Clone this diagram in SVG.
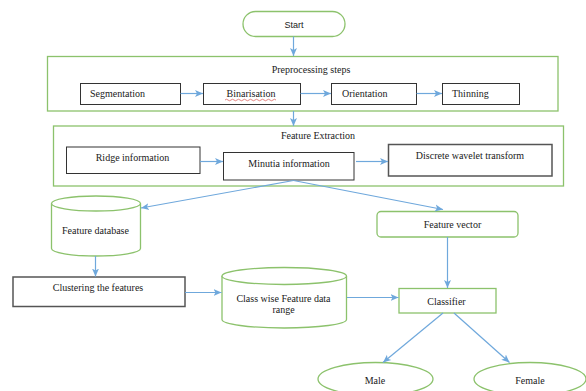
<svg xmlns="http://www.w3.org/2000/svg" width="586" height="391" viewBox="0 0 586 391">
<defs>
<style>
.t{font-family:"Liberation Serif","Times New Roman",serif;font-size:10px;fill:#1a1a1a}
.c{text-anchor:middle}
.g{fill:#fff;stroke:#8cc26c;stroke-width:1.3}
.k{fill:#fff;stroke:#333;stroke-width:1}
.k2{fill:#fff;stroke:#555;stroke-width:1.5}
.a{fill:none;stroke:#6fa8dc;stroke-width:1.2;marker-end:url(#ah)}
</style>
<marker id="ah" markerUnits="userSpaceOnUse" markerWidth="10" markerHeight="8" refX="8" refY="4" orient="auto">
<path d="M0,0.5 L8,4 L0,7.5 L2,4 Z" fill="#6fa8dc"/>
</marker>
</defs>
<rect width="586" height="391" fill="#fff"/>

<g id="start">
<rect class="g" x="243" y="11.5" width="102" height="25" rx="12.5"/>
<text x="294" y="27.5" class="c" style="font-family:'Liberation Sans',Arial,sans-serif;font-size:9px;fill:#1a1a1a">Start</text>
</g>

<g id="preprocessing">
<rect class="g" x="47.5" y="56.5" width="510.5" height="54.5"/>
<text class="t c" x="311" y="73">Preprocessing steps</text>
</g>
<g id="segmentation">
<rect class="k" x="80.5" y="83.5" width="100" height="21"/>
<text class="t" x="90" y="97">Segmentation</text>
</g>
<g id="binarisation">
<rect class="k" x="203.5" y="83.5" width="97" height="21"/>
<text class="t c" x="251" y="97">Binarisation</text>
<path d="M225,100 q1.5,-1.5 3,0 t3,0 t3,0 t3,0 t3,0 t3,0 t3,0 t3,0 t3,0 t3,0 t3,0 t3,0 t3,0 t3,0 t3,0 t3,0 t3,0" fill="none" stroke="#d9534f" stroke-width="0.7"/>
</g>
<g id="orientation">
<rect class="k" x="331.5" y="83.5" width="85" height="21"/>
<text class="t" x="342" y="97">Orientation</text>
</g>
<g id="thinning">
<rect class="k" x="442.5" y="83.5" width="77" height="21"/>
<text class="t" x="452" y="97">Thinning</text>
</g>

<g id="feature-extraction">
<rect class="g" x="53.5" y="126" width="510" height="60"/>
<text class="t c" x="318" y="139">Feature Extraction</text>
</g>
<g id="ridge">
<rect class="k" x="66.5" y="147" width="133.5" height="26.5"/>
<text class="t c" x="132.5" y="161">Ridge information</text>
</g>
<g id="minutia">
<rect class="k" x="223.5" y="152.5" width="130.5" height="27.5"/>
<text class="t c" x="289" y="167">Minutia information</text>
</g>
<g id="dwt">
<rect class="k2" x="388.5" y="144.5" width="163.5" height="31.5"/>
<text class="t c" x="470" y="159">Discrete wavelet transform</text>
</g>

<g id="feature-database">
<path class="g" d="M51.5,203.5 V248.5 A44.5,7.5 0 0 0 140.5,248.5 V203.5"/>
<ellipse class="g" cx="96" cy="203.5" rx="44.5" ry="7.5"/>
<text class="t c" x="95.5" y="234">Feature database</text>
</g>

<g id="feature-vector">
<rect class="g" x="377" y="211.5" width="141" height="25.5" rx="4"/>
<text class="t c" x="452.5" y="228">Feature vector</text>
</g>

<g id="clustering">
<rect class="k2" x="13" y="277" width="172" height="29.5"/>
<text class="t c" x="98" y="291">Clustering the features</text>
</g>

<g id="class-wise">
<path class="g" d="M222,276 V319.5 A62.25,8.5 0 0 0 346.5,319.5 V276"/>
<ellipse class="g" cx="284.25" cy="276" rx="62.25" ry="8.5"/>
<text class="t c" x="283.5" y="301.5">Class wise Feature data</text>
<text class="t c" x="283.5" y="313">range</text>
</g>

<g id="classifier">
<rect class="g" x="399" y="288.5" width="97" height="24.5"/>
<text class="t c" x="446.5" y="305">Classifier</text>
</g>

<g id="male">
<ellipse class="g" cx="375.5" cy="379" rx="57.5" ry="16.5"/>
<text class="t c" x="375" y="383.5">Male</text>
</g>
<g id="female">
<ellipse class="g" cx="530" cy="379" rx="56" ry="16.5"/>
<text class="t c" x="530" y="383.5">Female</text>
</g>

<g id="connectors">
<path class="a" d="M293.5,36.5 V56"/>
<path class="a" d="M180.5,93.5 H203"/>
<path class="a" d="M300.5,93.5 H331"/>
<path class="a" d="M416.5,93.5 H442"/>
<path class="a" d="M293.5,111 V126"/>
<path class="a" d="M200,161.5 H223"/>
<path class="a" d="M356,161.5 H388"/>
<path class="a" d="M293.5,180.5 L141,208"/>
<path class="a" d="M293.5,180.5 L443,209.5"/>
<path class="a" d="M95.5,256 V276.5"/>
<path class="a" d="M447.5,237 V288"/>
<path class="a" d="M185,292.5 H221.5"/>
<path class="a" d="M347,297.5 H398.5"/>
<path class="a" d="M443,313 L383,362.5"/>
<path class="a" d="M454,313 L509.5,362.5"/>
</g>
</svg>
